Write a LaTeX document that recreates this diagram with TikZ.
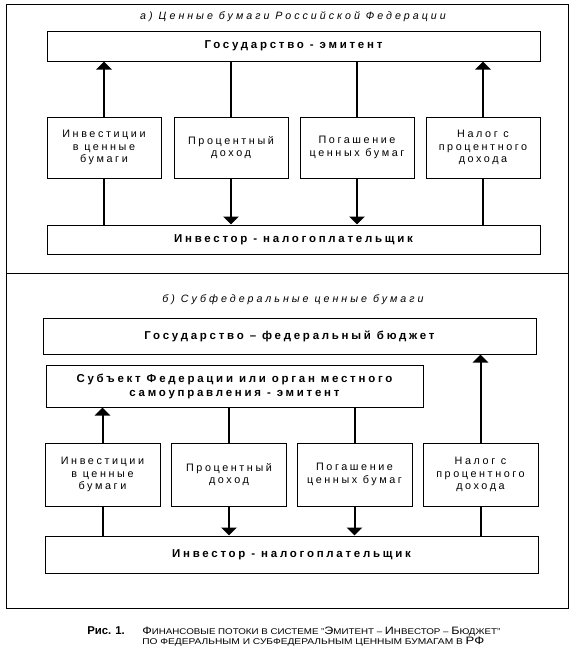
\documentclass[tikz,border=0pt]{standalone}
\usepackage{graphicx}
\usepackage{fontspec}
\setmainfont{Liberation Sans}
\newfontfamily\lsfont[LetterSpace=24]{Liberation Sans}
\newfontfamily\ttlfont[LetterSpace=28]{Liberation Sans}
\usetikzlibrary{arrows.meta}
\newcommand\capB[1]{{\fontsize{9}{9}\selectfont #1}}
\newcommand\capS[1]{{\fontsize{7}{7}\selectfont #1}}
\begin{document}
\begin{tikzpicture}[x=0.75pt,y=-0.75pt,
  wh/.style 2 args={minimum width={#1*0.75pt}, minimum height={#2*0.75pt}},
  box/.style={draw, line width=0.75pt, inner sep=0pt, align=center,
    font=\lsfont\fontsize{8.1}{9.4}\selectfont},
  bbox/.style={box, font=\lsfont\bfseries\fontsize{8.6}{10.5}\selectfont},
  ttl/.style={inner sep=0pt, font=\ttlfont\itshape\fontsize{8}{9.5}\selectfont},
  ln/.style={line width=1.5pt},
  arr/.style={line width=1.5pt, -{Triangle[length=6pt,width=11.5pt]}}]
\useasboundingbox (0,0) rectangle (576,650);
% frame
\draw[line width=0.75pt] (6,4) rectangle (568,608);
\draw[line width=0.75pt] (6,273) -- (568,273);
% ---- part a
\node[ttl] (tA) at (293,17) {а) Ценные бумаги Российской Федерации};
\node[bbox, wh={493}{30}] (gsA) at (293.5,46) {Государство - эмитент};
\node[box, wh={114}{61}] (A1) at (104,147.5) {Инвестиции\\в ценные\\бумаги};
\node[box, wh={114}{61}] (A2) at (231,147.5) {Процентный\\доход};
\node[box, wh={114}{61}] (A3) at (357,147.5) {Погашение\\ценных бумаг};
\node[box, wh={114}{61}] (A4) at (483,147.5) {Налог с\\процентного\\дохода};
\node[bbox, wh={493}{29}] (invA) at (293.5,239.5) {Инвестор - налогоплательщик};
\draw[arr] (A1.north) -- (A1.north |- gsA.south);
\draw[ln] (A1.south) -- (A1.south |- invA.north);
\draw[ln] (A2.north |- gsA.south) -- (A2.north);
\draw[arr] (A2.south) -- (A2.south |- invA.north);
\draw[ln] (A3.north |- gsA.south) -- (A3.north);
\draw[arr] (A3.south) -- (A3.south |- invA.north);
\draw[arr] (A4.north) -- (A4.north |- gsA.south);
\draw[ln] (A4.south) -- (A4.south |- invA.north);
% ---- part b
\node[ttl] (tB) at (293,300) {б) Субфедеральные ценные бумаги};
\node[bbox, wh={493}{36}] (gsB) at (289.5,336) {Государство – федеральный бюджет};
\node[bbox, wh={377}{42}] (subB) at (234.5,386) {Субъект Федерации или орган местного\\самоуправления - эмитент};
\node[box, wh={115}{63}] (B1) at (102.5,474.5) {Инвестиции\\в ценные\\бумаги};
\node[box, wh={115}{63}] (B2) at (229,474.5) {Процентный\\доход};
\node[box, wh={115}{63}] (B3) at (354.5,474.5) {Погашение\\ценных бумаг};
\node[box, wh={115}{63}] (B4) at (480.5,474.5) {Налог с\\процентного\\дохода};
\node[bbox, wh={493}{37}] (invB) at (291.5,554.5) {Инвестор - налогоплательщик};
\draw[arr] (B1.north) -- (B1.north |- subB.south);
\draw[ln] (B1.south) -- (B1.south |- invB.north);
\draw[ln] (B2.north |- subB.south) -- (B2.north);
\draw[arr] (B2.south) -- (B2.south |- invB.north);
\draw[ln] (B3.north |- subB.south) -- (B3.north);
\draw[arr] (B3.south) -- (B3.south |- invB.north);
\draw[arr] (B4.north) -- (B4.north |- gsB.south);
\draw[ln] (B4.south) -- (B4.south |- invB.north);
% ---- caption
\node[anchor=base west, inner sep=0pt, font=\bfseries\fontsize{8.5}{9}\selectfont] (capN) at (87,634) {Рис. 1.};
\node[anchor=base west, inner sep=0pt] (cap1) at (142,634) {\resizebox{268.5pt}{5.6pt}{\capB{Ф}\capS{ИНАНСОВЫЕ ПОТОКИ В СИСТЕМЕ "}\capB{Э}\capS{МИТЕНТ – }\capB{И}\capS{НВЕСТОР – }\capB{Б}\capS{ЮДЖЕТ"}}};
\node[anchor=base west, inner sep=0pt] (cap2) at (142,644) {\resizebox{256.5pt}{5.6pt}{\capS{ПО ФЕДЕРАЛЬНЫМ И СУБФЕДЕРАЛЬНЫМ ЦЕННЫМ БУМАГАМ В }\capB{РФ}}};
\end{tikzpicture}
\end{document}
